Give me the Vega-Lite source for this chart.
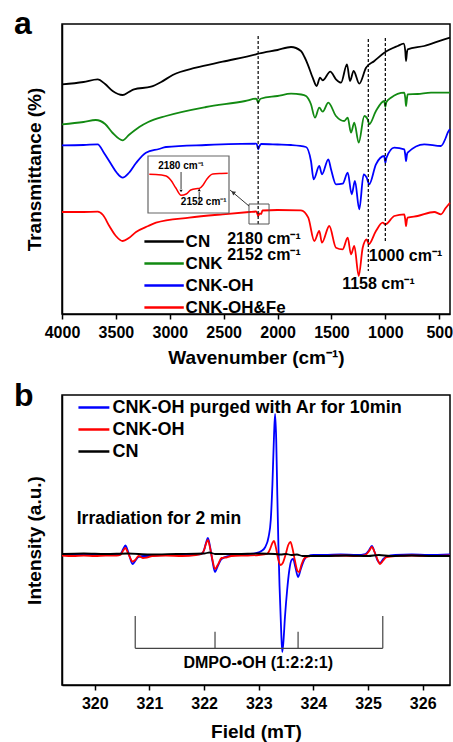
{
  "$schema": "https://vega.github.io/schema/vega-lite/v6.json",
  "padding": {"left": 13, "top": 7, "right": 3, "bottom": 0},
  "spacing": 11,
  "datasets": {
    "ftir": [
      {"sample":"CN","wavenumber":4000,"T":228.7},{"sample":"CN","wavenumber":3800,"T":231},{"sample":"CN","wavenumber":3669,"T":233.7},{"sample":"CN","wavenumber":3600,"T":229},{"sample":"CN","wavenumber":3530,"T":222},{"sample":"CN","wavenumber":3437,"T":218},{"sample":"CN","wavenumber":3380,"T":221},{"sample":"CN","wavenumber":3332,"T":223.7},{"sample":"CN","wavenumber":3174,"T":226.3},{"sample":"CN","wavenumber":3080,"T":231},{"sample":"CN","wavenumber":2973,"T":238},{"sample":"CN","wavenumber":2757,"T":245.3},{"sample":"CN","wavenumber":2509,"T":251.3},{"sample":"CN","wavenumber":2200,"T":258.7},{"sample":"CN","wavenumber":2172,"T":259.5},{"sample":"CN","wavenumber":2000,"T":263},{"sample":"CN","wavenumber":1875,"T":266},{"sample":"CN","wavenumber":1783,"T":262},{"sample":"CN","wavenumber":1750,"T":256},{"sample":"CN","wavenumber":1720,"T":248.7},{"sample":"CN","wavenumber":1674,"T":235.3},{"sample":"CN","wavenumber":1637,"T":227},{"sample":"CN","wavenumber":1606,"T":235.3},{"sample":"CN","wavenumber":1581,"T":232.7},{"sample":"CN","wavenumber":1511,"T":241.3},{"sample":"CN","wavenumber":1458,"T":233.7},{"sample":"CN","wavenumber":1411,"T":230.3},{"sample":"CN","wavenumber":1356,"T":248.7},{"sample":"CN","wavenumber":1328,"T":232},{"sample":"CN","wavenumber":1294,"T":242},{"sample":"CN","wavenumber":1242,"T":229.3},{"sample":"CN","wavenumber":1179,"T":245.3},{"sample":"CN","wavenumber":1102,"T":252},{"sample":"CN","wavenumber":1010,"T":260.3},{"sample":"CN","wavenumber":885,"T":267},{"sample":"CN","wavenumber":830,"T":269.3},{"sample":"CN","wavenumber":815,"T":262},{"sample":"CN","wavenumber":808,"T":252},{"sample":"CN","wavenumber":800,"T":260},{"sample":"CN","wavenumber":793,"T":263.7},{"sample":"CN","wavenumber":639,"T":267},{"sample":"CN","wavenumber":453,"T":273.7},{"sample":"CN","wavenumber":400,"T":275.3},
      {"sample":"CNK","wavenumber":4000,"T":188.7},{"sample":"CNK","wavenumber":3800,"T":191},{"sample":"CNK","wavenumber":3687,"T":193},{"sample":"CNK","wavenumber":3600,"T":189},{"sample":"CNK","wavenumber":3530,"T":180},{"sample":"CNK","wavenumber":3437,"T":172.7},{"sample":"CNK","wavenumber":3380,"T":178},{"sample":"CNK","wavenumber":3283,"T":186},{"sample":"CNK","wavenumber":3200,"T":191},{"sample":"CNK","wavenumber":3035,"T":197},{"sample":"CNK","wavenumber":2664,"T":206},{"sample":"CNK","wavenumber":2300,"T":212},{"sample":"CNK","wavenumber":2200,"T":214.3},{"sample":"CNK","wavenumber":2190,"T":213},{"sample":"CNK","wavenumber":2180,"T":210.3},{"sample":"CNK","wavenumber":2165,"T":213.5},{"sample":"CNK","wavenumber":2150,"T":214.5},{"sample":"CNK","wavenumber":2000,"T":217},{"sample":"CNK","wavenumber":1875,"T":219.3},{"sample":"CNK","wavenumber":1780,"T":218.5},{"sample":"CNK","wavenumber":1736,"T":217},{"sample":"CNK","wavenumber":1690,"T":208.7},{"sample":"CNK","wavenumber":1653,"T":195.3},{"sample":"CNK","wavenumber":1613,"T":205.3},{"sample":"CNK","wavenumber":1581,"T":201.3},{"sample":"CNK","wavenumber":1529,"T":210.3},{"sample":"CNK","wavenumber":1458,"T":197},{"sample":"CNK","wavenumber":1381,"T":192},{"sample":"CNK","wavenumber":1349,"T":195.3},{"sample":"CNK","wavenumber":1319,"T":180.3},{"sample":"CNK","wavenumber":1288,"T":190.3},{"sample":"CNK","wavenumber":1247,"T":170.3},{"sample":"CNK","wavenumber":1195,"T":197},{"sample":"CNK","wavenumber":1164,"T":193.7},{"sample":"CNK","wavenumber":1150,"T":188.7},{"sample":"CNK","wavenumber":1087,"T":202},{"sample":"CNK","wavenumber":1010,"T":212},{"sample":"CNK","wavenumber":1000,"T":206},{"sample":"CNK","wavenumber":990,"T":211},{"sample":"CNK","wavenumber":948,"T":215.3},{"sample":"CNK","wavenumber":824,"T":220.3},{"sample":"CNK","wavenumber":815,"T":215},{"sample":"CNK","wavenumber":808,"T":207},{"sample":"CNK","wavenumber":800,"T":214},{"sample":"CNK","wavenumber":793,"T":218.7},{"sample":"CNK","wavenumber":700,"T":219},{"sample":"CNK","wavenumber":576,"T":220.3},{"sample":"CNK","wavenumber":400,"T":220.3},
      {"sample":"CNK-OH","wavenumber":4000,"T":167.7},{"sample":"CNK-OH","wavenumber":3800,"T":168},{"sample":"CNK-OH","wavenumber":3669,"T":168.7},{"sample":"CNK-OH","wavenumber":3610,"T":160},{"sample":"CNK-OH","wavenumber":3545,"T":149},{"sample":"CNK-OH","wavenumber":3490,"T":140},{"sample":"CNK-OH","wavenumber":3437,"T":135.3},{"sample":"CNK-OH","wavenumber":3380,"T":140},{"sample":"CNK-OH","wavenumber":3313,"T":150},{"sample":"CNK-OH","wavenumber":3221,"T":160.3},{"sample":"CNK-OH","wavenumber":3100,"T":164},{"sample":"CNK-OH","wavenumber":3035,"T":166},{"sample":"CNK-OH","wavenumber":2664,"T":168},{"sample":"CNK-OH","wavenumber":2200,"T":169.3},{"sample":"CNK-OH","wavenumber":2190,"T":168},{"sample":"CNK-OH","wavenumber":2180,"T":163.7},{"sample":"CNK-OH","wavenumber":2165,"T":167.5},{"sample":"CNK-OH","wavenumber":2150,"T":169},{"sample":"CNK-OH","wavenumber":2000,"T":168.5},{"sample":"CNK-OH","wavenumber":1875,"T":168},{"sample":"CNK-OH","wavenumber":1736,"T":166},{"sample":"CNK-OH","wavenumber":1690,"T":152},{"sample":"CNK-OH","wavenumber":1665,"T":133.7},{"sample":"CNK-OH","wavenumber":1613,"T":147},{"sample":"CNK-OH","wavenumber":1588,"T":138.7},{"sample":"CNK-OH","wavenumber":1529,"T":153.7},{"sample":"CNK-OH","wavenumber":1504,"T":143.7},{"sample":"CNK-OH","wavenumber":1458,"T":128.7},{"sample":"CNK-OH","wavenumber":1396,"T":129.3},{"sample":"CNK-OH","wavenumber":1349,"T":140.3},{"sample":"CNK-OH","wavenumber":1312,"T":118.7},{"sample":"CNK-OH","wavenumber":1282,"T":132},{"sample":"CNK-OH","wavenumber":1242,"T":103.7},{"sample":"CNK-OH","wavenumber":1201,"T":138.7},{"sample":"CNK-OH","wavenumber":1173,"T":135.3},{"sample":"CNK-OH","wavenumber":1150,"T":128.7},{"sample":"CNK-OH","wavenumber":1087,"T":148.7},{"sample":"CNK-OH","wavenumber":1010,"T":157},{"sample":"CNK-OH","wavenumber":1000,"T":150.3},{"sample":"CNK-OH","wavenumber":990,"T":155},{"sample":"CNK-OH","wavenumber":917,"T":165.3},{"sample":"CNK-OH","wavenumber":824,"T":163.7},{"sample":"CNK-OH","wavenumber":815,"T":158},{"sample":"CNK-OH","wavenumber":808,"T":152},{"sample":"CNK-OH","wavenumber":800,"T":158},{"sample":"CNK-OH","wavenumber":793,"T":160.3},{"sample":"CNK-OH","wavenumber":639,"T":168.7},{"sample":"CNK-OH","wavenumber":484,"T":167},{"sample":"CNK-OH","wavenumber":440,"T":175},{"sample":"CNK-OH","wavenumber":421,"T":180.3},{"sample":"CNK-OH","wavenumber":400,"T":184},
      {"sample":"CNK-OH&Fe","wavenumber":4000,"T":101},{"sample":"CNK-OH&Fe","wavenumber":3800,"T":101},{"sample":"CNK-OH&Fe","wavenumber":3669,"T":101.3},{"sample":"CNK-OH&Fe","wavenumber":3620,"T":98},{"sample":"CNK-OH&Fe","wavenumber":3561,"T":87},{"sample":"CNK-OH&Fe","wavenumber":3500,"T":77},{"sample":"CNK-OH&Fe","wavenumber":3437,"T":72},{"sample":"CNK-OH&Fe","wavenumber":3380,"T":75},{"sample":"CNK-OH&Fe","wavenumber":3313,"T":81},{"sample":"CNK-OH&Fe","wavenumber":3200,"T":87},{"sample":"CNK-OH&Fe","wavenumber":3128,"T":90.3},{"sample":"CNK-OH&Fe","wavenumber":2819,"T":95.3},{"sample":"CNK-OH&Fe","wavenumber":2509,"T":98.7},{"sample":"CNK-OH&Fe","wavenumber":2262,"T":101},{"sample":"CNK-OH&Fe","wavenumber":2200,"T":101.5},{"sample":"CNK-OH&Fe","wavenumber":2190,"T":100},{"sample":"CNK-OH&Fe","wavenumber":2180,"T":97},{"sample":"CNK-OH&Fe","wavenumber":2165,"T":99.5},{"sample":"CNK-OH&Fe","wavenumber":2152,"T":99},{"sample":"CNK-OH&Fe","wavenumber":2140,"T":102.5},{"sample":"CNK-OH&Fe","wavenumber":2000,"T":103},{"sample":"CNK-OH&Fe","wavenumber":1783,"T":102.7},{"sample":"CNK-OH&Fe","wavenumber":1715,"T":95.3},{"sample":"CNK-OH&Fe","wavenumber":1659,"T":72},{"sample":"CNK-OH&Fe","wavenumber":1613,"T":82},{"sample":"CNK-OH&Fe","wavenumber":1588,"T":70.3},{"sample":"CNK-OH&Fe","wavenumber":1520,"T":87},{"sample":"CNK-OH&Fe","wavenumber":1458,"T":65.3},{"sample":"CNK-OH&Fe","wavenumber":1396,"T":63.7},{"sample":"CNK-OH&Fe","wavenumber":1349,"T":75.3},{"sample":"CNK-OH&Fe","wavenumber":1319,"T":58.7},{"sample":"CNK-OH&Fe","wavenumber":1288,"T":67},{"sample":"CNK-OH&Fe","wavenumber":1247,"T":37},{"sample":"CNK-OH&Fe","wavenumber":1210,"T":65.3},{"sample":"CNK-OH&Fe","wavenumber":1173,"T":73.7},{"sample":"CNK-OH&Fe","wavenumber":1154,"T":68.7},{"sample":"CNK-OH&Fe","wavenumber":1087,"T":82},{"sample":"CNK-OH&Fe","wavenumber":1025,"T":90.3},{"sample":"CNK-OH&Fe","wavenumber":1000,"T":88.7},{"sample":"CNK-OH&Fe","wavenumber":917,"T":97},{"sample":"CNK-OH&Fe","wavenumber":824,"T":98.7},{"sample":"CNK-OH&Fe","wavenumber":815,"T":93},{"sample":"CNK-OH&Fe","wavenumber":808,"T":87},{"sample":"CNK-OH&Fe","wavenumber":800,"T":93},{"sample":"CNK-OH&Fe","wavenumber":793,"T":95.3},{"sample":"CNK-OH&Fe","wavenumber":700,"T":97},{"sample":"CNK-OH&Fe","wavenumber":546,"T":101},{"sample":"CNK-OH&Fe","wavenumber":484,"T":98.7},{"sample":"CNK-OH&Fe","wavenumber":440,"T":105},{"sample":"CNK-OH&Fe","wavenumber":400,"T":110.3}
    ],
    "ftirRules": [
      {"wavenumber":2180,"top":277,"bottom":89},
      {"wavenumber":1158,"top":274,"bottom":42},
      {"wavenumber":1000,"top":275,"bottom":70}
    ],
    "ftirLabels": [
      {"wavenumber":2126,"T":69,"label":"2180 cm⁻¹"},
      {"wavenumber":2126,"T":53,"label":"2152 cm⁻¹"},
      {"wavenumber":813,"T":52,"label":"1000 cm⁻¹"},
      {"wavenumber":1064,"T":24,"label":"1158 cm⁻¹"}
    ],
    "panelA": [{"wavenumber":4445,"T":279,"label":"a"}],
    "zoomBox": [{"w1":2265,"w2":2079,"t1":109,"t2":89}],
    "pointer": [{"wavenumber":2265,"T":107},{"wavenumber":2441,"T":123}],
    "pointerHead": [{"wavenumber":2413,"T":120.5}],
    "inset": [
      {"ix":2228,"iy":38.7},{"ix":2218,"iy":38.5},{"ix":2202,"iy":37},{"ix":2195,"iy":33},{"ix":2187,"iy":25},{"ix":2179,"iy":17.7},{"ix":2171,"iy":19},{"ix":2164,"iy":23},{"ix":2156,"iy":24.3},{"ix":2151,"iy":24.5},{"ix":2145,"iy":28},{"ix":2139,"iy":34},{"ix":2130,"iy":39},{"ix":2117,"iy":39.5},{"ix":2107,"iy":39.7}
    ],
    "insetFrame": [{"ix1":2230,"ix2":2105,"iy1":0,"iy2":57}],
    "insetArrows": [
      {"ix":2179,"iy1":41,"iy2":24,"head":22,"dir":"triangle-down"},
      {"ix":2151,"iy1":11,"iy2":21,"head":23,"dir":"triangle-up"}
    ],
    "insetLabels": [
      {"ix":2179,"iy":44,"label":"2180 cm⁻¹"},
      {"ix":2144,"iy":8,"label":"2152 cm⁻¹"}
    ],
    "epr": [
      {"sample":"CNK-OH purged with Ar for 10min","field":319.4,"I":0.5},{"sample":"CNK-OH purged with Ar for 10min","field":319.6,"I":0},{"sample":"CNK-OH purged with Ar for 10min","field":319.8,"I":0.5},{"sample":"CNK-OH purged with Ar for 10min","field":320.0,"I":0},{"sample":"CNK-OH purged with Ar for 10min","field":320.2,"I":0.5},{"sample":"CNK-OH purged with Ar for 10min","field":320.4,"I":0},{"sample":"CNK-OH purged with Ar for 10min","field":320.47,"I":1},{"sample":"CNK-OH purged with Ar for 10min","field":320.52,"I":6},{"sample":"CNK-OH purged with Ar for 10min","field":320.56,"I":9.5},{"sample":"CNK-OH purged with Ar for 10min","field":320.6,"I":5},{"sample":"CNK-OH purged with Ar for 10min","field":320.64,"I":-2},{"sample":"CNK-OH purged with Ar for 10min","field":320.69,"I":-9},{"sample":"CNK-OH purged with Ar for 10min","field":320.74,"I":-6},{"sample":"CNK-OH purged with Ar for 10min","field":320.8,"I":-2},{"sample":"CNK-OH purged with Ar for 10min","field":320.9,"I":-1},{"sample":"CNK-OH purged with Ar for 10min","field":321.0,"I":-1},{"sample":"CNK-OH purged with Ar for 10min","field":321.2,"I":0},{"sample":"CNK-OH purged with Ar for 10min","field":321.5,"I":0},{"sample":"CNK-OH purged with Ar for 10min","field":321.8,"I":0.5},{"sample":"CNK-OH purged with Ar for 10min","field":321.95,"I":1},{"sample":"CNK-OH purged with Ar for 10min","field":322.0,"I":5},{"sample":"CNK-OH purged with Ar for 10min","field":322.04,"I":13},{"sample":"CNK-OH purged with Ar for 10min","field":322.07,"I":17},{"sample":"CNK-OH purged with Ar for 10min","field":322.11,"I":8},{"sample":"CNK-OH purged with Ar for 10min","field":322.15,"I":-5},{"sample":"CNK-OH purged with Ar for 10min","field":322.2,"I":-17},{"sample":"CNK-OH purged with Ar for 10min","field":322.25,"I":-11},{"sample":"CNK-OH purged with Ar for 10min","field":322.32,"I":-4},{"sample":"CNK-OH purged with Ar for 10min","field":322.45,"I":-1},{"sample":"CNK-OH purged with Ar for 10min","field":322.6,"I":0},{"sample":"CNK-OH purged with Ar for 10min","field":322.8,"I":1},{"sample":"CNK-OH purged with Ar for 10min","field":322.95,"I":2},{"sample":"CNK-OH purged with Ar for 10min","field":323.05,"I":4},{"sample":"CNK-OH purged with Ar for 10min","field":323.12,"I":8},{"sample":"CNK-OH purged with Ar for 10min","field":323.18,"I":18},{"sample":"CNK-OH purged with Ar for 10min","field":323.22,"I":35},{"sample":"CNK-OH purged with Ar for 10min","field":323.25,"I":70},{"sample":"CNK-OH purged with Ar for 10min","field":323.28,"I":120},{"sample":"CNK-OH purged with Ar for 10min","field":323.3,"I":141},{"sample":"CNK-OH purged with Ar for 10min","field":323.32,"I":115},{"sample":"CNK-OH purged with Ar for 10min","field":323.34,"I":60},{"sample":"CNK-OH purged with Ar for 10min","field":323.36,"I":10},{"sample":"CNK-OH purged with Ar for 10min","field":323.38,"I":-30},{"sample":"CNK-OH purged with Ar for 10min","field":323.41,"I":-75},{"sample":"CNK-OH purged with Ar for 10min","field":323.43,"I":-97},{"sample":"CNK-OH purged with Ar for 10min","field":323.45,"I":-88},{"sample":"CNK-OH purged with Ar for 10min","field":323.48,"I":-62},{"sample":"CNK-OH purged with Ar for 10min","field":323.52,"I":-35},{"sample":"CNK-OH purged with Ar for 10min","field":323.56,"I":-15},{"sample":"CNK-OH purged with Ar for 10min","field":323.6,"I":-5},{"sample":"CNK-OH purged with Ar for 10min","field":323.63,"I":-4},{"sample":"CNK-OH purged with Ar for 10min","field":323.67,"I":-12},{"sample":"CNK-OH purged with Ar for 10min","field":323.72,"I":-22},{"sample":"CNK-OH purged with Ar for 10min","field":323.77,"I":-14},{"sample":"CNK-OH purged with Ar for 10min","field":323.83,"I":-5},{"sample":"CNK-OH purged with Ar for 10min","field":323.9,"I":-1},{"sample":"CNK-OH purged with Ar for 10min","field":324.0,"I":0},{"sample":"CNK-OH purged with Ar for 10min","field":324.2,"I":0},{"sample":"CNK-OH purged with Ar for 10min","field":324.5,"I":0.5},{"sample":"CNK-OH purged with Ar for 10min","field":324.8,"I":0},{"sample":"CNK-OH purged with Ar for 10min","field":324.95,"I":1},{"sample":"CNK-OH purged with Ar for 10min","field":325.02,"I":5},{"sample":"CNK-OH purged with Ar for 10min","field":325.07,"I":9},{"sample":"CNK-OH purged with Ar for 10min","field":325.12,"I":3},{"sample":"CNK-OH purged with Ar for 10min","field":325.17,"I":-5},{"sample":"CNK-OH purged with Ar for 10min","field":325.22,"I":-8},{"sample":"CNK-OH purged with Ar for 10min","field":325.28,"I":-4},{"sample":"CNK-OH purged with Ar for 10min","field":325.35,"I":-1},{"sample":"CNK-OH purged with Ar for 10min","field":325.5,"I":0},{"sample":"CNK-OH purged with Ar for 10min","field":325.8,"I":0.5},{"sample":"CNK-OH purged with Ar for 10min","field":326.1,"I":0},{"sample":"CNK-OH purged with Ar for 10min","field":326.5,"I":0.5},
      {"sample":"CNK-OH","field":319.4,"I":-0.5},{"sample":"CNK-OH","field":319.6,"I":-1},{"sample":"CNK-OH","field":319.8,"I":-0.5},{"sample":"CNK-OH","field":320.0,"I":-1},{"sample":"CNK-OH","field":320.2,"I":-0.5},{"sample":"CNK-OH","field":320.4,"I":-0.5},{"sample":"CNK-OH","field":320.47,"I":0},{"sample":"CNK-OH","field":320.52,"I":4.5},{"sample":"CNK-OH","field":320.56,"I":7},{"sample":"CNK-OH","field":320.6,"I":3},{"sample":"CNK-OH","field":320.64,"I":-2},{"sample":"CNK-OH","field":320.69,"I":-6.5},{"sample":"CNK-OH","field":320.74,"I":-5},{"sample":"CNK-OH","field":320.8,"I":-1},{"sample":"CNK-OH","field":320.88,"I":-3},{"sample":"CNK-OH","field":320.95,"I":-2.5},{"sample":"CNK-OH","field":321.05,"I":-1},{"sample":"CNK-OH","field":321.3,"I":-0.5},{"sample":"CNK-OH","field":321.6,"I":-1},{"sample":"CNK-OH","field":321.85,"I":0},{"sample":"CNK-OH","field":321.95,"I":1},{"sample":"CNK-OH","field":322.0,"I":5},{"sample":"CNK-OH","field":322.04,"I":12},{"sample":"CNK-OH","field":322.07,"I":15},{"sample":"CNK-OH","field":322.11,"I":7},{"sample":"CNK-OH","field":322.15,"I":-4},{"sample":"CNK-OH","field":322.2,"I":-14},{"sample":"CNK-OH","field":322.25,"I":-10},{"sample":"CNK-OH","field":322.32,"I":-3},{"sample":"CNK-OH","field":322.4,"I":-2.5},{"sample":"CNK-OH","field":322.5,"I":-1},{"sample":"CNK-OH","field":322.8,"I":-0.5},{"sample":"CNK-OH","field":323.0,"I":0},{"sample":"CNK-OH","field":323.15,"I":1},{"sample":"CNK-OH","field":323.2,"I":5},{"sample":"CNK-OH","field":323.25,"I":12},{"sample":"CNK-OH","field":323.28,"I":14},{"sample":"CNK-OH","field":323.32,"I":6},{"sample":"CNK-OH","field":323.36,"I":-5},{"sample":"CNK-OH","field":323.4,"I":-10},{"sample":"CNK-OH","field":323.44,"I":-8},{"sample":"CNK-OH","field":323.49,"I":0},{"sample":"CNK-OH","field":323.54,"I":10},{"sample":"CNK-OH","field":323.58,"I":13},{"sample":"CNK-OH","field":323.62,"I":6},{"sample":"CNK-OH","field":323.66,"I":-5},{"sample":"CNK-OH","field":323.71,"I":-16},{"sample":"CNK-OH","field":323.74,"I":-17},{"sample":"CNK-OH","field":323.78,"I":-10},{"sample":"CNK-OH","field":323.84,"I":-3},{"sample":"CNK-OH","field":323.95,"I":-1},{"sample":"CNK-OH","field":324.2,"I":-1},{"sample":"CNK-OH","field":324.5,"I":-0.5},{"sample":"CNK-OH","field":324.8,"I":-1},{"sample":"CNK-OH","field":324.95,"I":0},{"sample":"CNK-OH","field":325.02,"I":4},{"sample":"CNK-OH","field":325.07,"I":8},{"sample":"CNK-OH","field":325.12,"I":3},{"sample":"CNK-OH","field":325.17,"I":-4},{"sample":"CNK-OH","field":325.22,"I":-9},{"sample":"CNK-OH","field":325.27,"I":-6},{"sample":"CNK-OH","field":325.34,"I":-2},{"sample":"CNK-OH","field":325.5,"I":-1},{"sample":"CNK-OH","field":325.8,"I":-0.5},{"sample":"CNK-OH","field":326.1,"I":-1},{"sample":"CNK-OH","field":326.5,"I":-0.5},
      {"sample":"CN","field":319.4,"I":1},{"sample":"CN","field":319.8,"I":1.5},{"sample":"CN","field":320.2,"I":1},{"sample":"CN","field":320.6,"I":1.5},{"sample":"CN","field":321.0,"I":0.5},{"sample":"CN","field":321.5,"I":1},{"sample":"CN","field":322.0,"I":1.5},{"sample":"CN","field":322.1,"I":2.5},{"sample":"CN","field":322.2,"I":1},{"sample":"CN","field":322.6,"I":1},{"sample":"CN","field":323.0,"I":1.5},{"sample":"CN","field":323.3,"I":1},{"sample":"CN","field":323.4,"I":0.5},{"sample":"CN","field":323.5,"I":1},{"sample":"CN","field":323.6,"I":0},{"sample":"CN","field":323.7,"I":0.5},{"sample":"CN","field":323.8,"I":-1},{"sample":"CN","field":324.2,"I":-1},{"sample":"CN","field":324.6,"I":-0.5},{"sample":"CN","field":325.0,"I":-1},{"sample":"CN","field":325.2,"I":0},{"sample":"CN","field":325.4,"I":-1},{"sample":"CN","field":325.8,"I":-0.5},{"sample":"CN","field":326.2,"I":-1},{"sample":"CN","field":326.5,"I":-1}
    ],
    "dmpoSticks": [
      {"field":320.74,"top":-61,"bottom":-93.3},
      {"field":322.2,"top":-76.7,"bottom":-93.3},
      {"field":323.72,"top":-76.7,"bottom":-93.3},
      {"field":325.27,"top":-61,"bottom":-93.3}
    ],
    "dmpoBase": [{"f1":320.74,"f2":325.27,"I":-93.3}],
    "eprLabels": [
      {"field":322.99,"I":-113,"label":"DMPO-•OH (1:2:2:1)"}
    ],
    "eprNote": [
      {"field":319.67,"I":31,"label":"Irradiation for 2 min"}
    ],
    "panelB": [{"field":318.52,"I":149,"label":"b"}]
  },
  "vconcat": [
    {
      "width": 388,
      "height": 290,
      "layer": [
        {
          "layer": [
            {
              "data": {"name": "ftir"},
              "mark": {"type": "line", "strokeWidth": 1.8, "interpolate": "monotone"},
              "encoding": {
                "x": {"field": "wavenumber", "type": "quantitative", "title": "Wavenumber (cm⁻¹)",
                      "scale": {"domain": [400, 4000], "reverse": true, "nice": false, "zero": false},
                      "axis": {"values": [500,750,1000,1250,1500,1750,2000,2250,2500,2750,3000,3250,3500,3750,4000], "format": "d",
                               "labelExpr": "datum.value % 500 === 0 ? datum.label : ''",
                               "tickSize": {"condition": {"test": "datum.value % 500 === 0", "value": 5}, "value": 3},
                               "labelOverlap": false, "labelFlush": false, "labelPadding": 5, "titlePadding": 8}},
                "y": {"field": "T", "type": "quantitative", "title": "Transmittance (%)",
                      "scale": {"domain": [-1, 289], "nice": false, "zero": false},
                      "axis": {"labels": false, "ticks": false, "titlePadding": 18}},
                "color": {"field": "sample", "type": "nominal",
                          "scale": {"domain": ["CN","CNK","CNK-OH","CNK-OH&Fe"], "range": ["#000000","#128a12","#0000ff","#ff0000"]},
                          "legend": {"title": null, "orient": "none", "legendX": 90.6, "legendY": 206, "symbolType": "M-1.95,0H1.95", "symbolSize": 408, "labelOffset": 10, "labelFontSize": 17}}
              }
            },
            {
              "data": {"name": "ftirRules"},
              "mark": {"type": "rule", "strokeDash": [3, 2], "strokeWidth": 1.2, "color": "#000"},
              "encoding": {
                "x": {"field": "wavenumber", "type": "quantitative", "title": "Wavenumber (cm⁻¹)"},
                "y": {"field": "top", "type": "quantitative", "title": "Transmittance (%)"},
                "y2": {"field": "bottom"}
              }
            },
            {
              "data": {"name": "ftirLabels"},
              "mark": {"type": "text", "fontSize": 16, "fontWeight": "bold", "font": "Liberation Sans", "align": "center", "baseline": "alphabetic", "color": "#000"},
              "encoding": {
                "x": {"field": "wavenumber", "type": "quantitative", "title": "Wavenumber (cm⁻¹)"},
                "y": {"field": "T", "type": "quantitative", "title": "Transmittance (%)"},
                "text": {"field": "label"}
              }
            },
            {
              "data": {"name": "panelA"},
              "mark": {"type": "text", "fontSize": 32, "fontWeight": "bold", "font": "Liberation Sans", "align": "left", "baseline": "alphabetic", "color": "#000", "clip": false},
              "encoding": {
                "x": {"field": "wavenumber", "type": "quantitative", "title": "Wavenumber (cm⁻¹)"},
                "y": {"field": "T", "type": "quantitative", "title": "Transmittance (%)"},
                "text": {"field": "label"}
              }
            },
            {
              "data": {"name": "zoomBox"},
              "mark": {"type": "rect", "fill": null, "fillOpacity": 0, "stroke": "#555", "strokeWidth": 1},
              "encoding": {
                "x": {"field": "w1", "type": "quantitative", "title": "Wavenumber (cm⁻¹)"},
                "x2": {"field": "w2"},
                "y": {"field": "t1", "type": "quantitative", "title": "Transmittance (%)"},
                "y2": {"field": "t2"}
              }
            },
            {
              "data": {"name": "pointer"},
              "mark": {"type": "line", "color": "#333", "strokeWidth": 1},
              "encoding": {
                "x": {"field": "wavenumber", "type": "quantitative", "title": "Wavenumber (cm⁻¹)"},
                "y": {"field": "T", "type": "quantitative", "title": "Transmittance (%)"}
              }
            },
            {
              "data": {"name": "pointerHead"},
              "mark": {"type": "point", "shape": "triangle-up", "angle": 306, "size": 22, "filled": true, "color": "#333", "opacity": 1},
              "encoding": {
                "x": {"field": "wavenumber", "type": "quantitative", "title": "Wavenumber (cm⁻¹)"},
                "y": {"field": "T", "type": "quantitative", "title": "Transmittance (%)"}
              }
            }
          ]
        },
        {
          "layer": [
            {
              "data": {"name": "insetFrame"},
              "mark": {"type": "rect", "fill": "#fff", "fillOpacity": 0, "stroke": "#666", "strokeWidth": 1.2},
              "encoding": {
                "x": {"field": "ix1", "type": "quantitative", "scale": {"domain": [2230, 2105], "range": [86, 167], "nice": false, "zero": false}, "axis": null},
                "x2": {"field": "ix2"},
                "y": {"field": "iy1", "type": "quantitative", "scale": {"domain": [0, 57], "range": [189, 132], "nice": false, "zero": false}, "axis": null},
                "y2": {"field": "iy2"}
              }
            },
            {
              "data": {"name": "inset"},
              "mark": {"type": "line", "color": "#ff0000", "strokeWidth": 1.5, "interpolate": "monotone"},
              "encoding": {
                "x": {"field": "ix", "type": "quantitative", "axis": null},
                "y": {"field": "iy", "type": "quantitative", "axis": null}
              }
            },
            {
              "data": {"name": "insetArrows"},
              "mark": {"type": "rule", "color": "#000", "strokeWidth": 0.8},
              "encoding": {
                "x": {"field": "ix", "type": "quantitative", "axis": null},
                "y": {"field": "iy1", "type": "quantitative", "axis": null},
                "y2": {"field": "iy2"}
              }
            },
            {
              "data": {"name": "insetArrows"},
              "mark": {"type": "point", "filled": true, "size": 10, "color": "#000", "opacity": 1},
              "encoding": {
                "x": {"field": "ix", "type": "quantitative", "axis": null},
                "y": {"field": "head", "type": "quantitative", "axis": null},
                "shape": {"field": "dir", "type": "nominal", "scale": null, "legend": null}
              }
            },
            {
              "data": {"name": "insetLabels"},
              "mark": {"type": "text", "fontSize": 10, "fontWeight": "bold", "font": "Liberation Sans", "align": "center", "baseline": "alphabetic", "color": "#000"},
              "encoding": {
                "x": {"field": "ix", "type": "quantitative", "axis": null},
                "y": {"field": "iy", "type": "quantitative", "axis": null},
                "text": {"field": "label"}
              }
            }
          ]
        }
      ],
      "resolve": {"scale": {"x": "independent", "y": "independent"}}
    },
    {
      "width": 388,
      "height": 290,
      "layer": [
        {
          "data": {"name": "epr"},
          "mark": {"type": "line", "strokeWidth": 1.8, "interpolate": "monotone"},
          "encoding": {
            "x": {"field": "field", "type": "quantitative", "title": "Field (mT)",
                  "scale": {"domain": [319.4, 326.5], "nice": false, "zero": false},
                  "axis": {"values": [320,321,322,323,324,325,326], "format": "d",
                           "tickSize": 5, "labelOverlap": false, "labelFlush": false, "labelPadding": 5, "titlePadding": 11}},
            "y": {"field": "I", "type": "quantitative", "title": "Intensity (a.u.)",
                  "scale": {"domain": [-130, 160], "nice": false, "zero": false},
                  "axis": {"labels": false, "ticks": false, "titlePadding": 18}},
            "color": {"field": "sample", "type": "nominal",
                      "scale": {"domain": ["CNK-OH purged with Ar for 10min","CNK-OH","CN"], "range": ["#0000ff","#ff0000","#000000"]},
                      "legend": {"title": null, "orient": "none", "legendX": 21.4, "legendY": 2, "symbolType": "M-1.7,0H1.7", "symbolSize": 331, "labelOffset": 8, "labelFontSize": 18, "labelLimit": 0}}
          }
        },
        {
          "data": {"name": "dmpoSticks"},
          "mark": {"type": "rule", "color": "#444", "strokeWidth": 1.2},
          "encoding": {
            "x": {"field": "field", "type": "quantitative", "title": "Field (mT)"},
            "y": {"field": "top", "type": "quantitative", "title": "Intensity (a.u.)"},
            "y2": {"field": "bottom"}
          }
        },
        {
          "data": {"name": "dmpoBase"},
          "mark": {"type": "rule", "color": "#444", "strokeWidth": 1.2},
          "encoding": {
            "x": {"field": "f1", "type": "quantitative", "title": "Field (mT)"},
            "x2": {"field": "f2"},
            "y": {"field": "I", "type": "quantitative", "title": "Intensity (a.u.)"}
          }
        },
        {
          "data": {"name": "eprLabels"},
          "mark": {"type": "text", "fontSize": 16, "fontWeight": "bold", "font": "Liberation Sans", "align": "center", "baseline": "alphabetic", "color": "#000"},
          "encoding": {
            "x": {"field": "field", "type": "quantitative", "title": "Field (mT)"},
            "y": {"field": "I", "type": "quantitative", "title": "Intensity (a.u.)"},
            "text": {"field": "label"}
          }
        },
        {
          "data": {"name": "eprNote"},
          "mark": {"type": "text", "fontSize": 17.5, "fontWeight": "bold", "font": "Liberation Sans", "align": "left", "baseline": "alphabetic", "color": "#000"},
          "encoding": {
            "x": {"field": "field", "type": "quantitative", "title": "Field (mT)"},
            "y": {"field": "I", "type": "quantitative", "title": "Intensity (a.u.)"},
            "text": {"field": "label"}
          }
        },
        {
          "data": {"name": "panelB"},
          "mark": {"type": "text", "fontSize": 32, "fontWeight": "bold", "font": "Liberation Sans", "align": "left", "baseline": "alphabetic", "color": "#000", "clip": false},
          "encoding": {
            "x": {"field": "field", "type": "quantitative", "title": "Field (mT)"},
            "y": {"field": "I", "type": "quantitative", "title": "Intensity (a.u.)"},
            "text": {"field": "label"}
          }
        }
      ]
    }
  ],
  "resolve": {"scale": {"x": "independent", "y": "independent", "color": "independent"}, "legend": {"color": "independent"}},
  "config": {
    "font": "Liberation Sans",
    "background": "#ffffff",
    "view": {"stroke": "#000", "strokeWidth": 1.5},
    "axis": {"domainColor": "#000", "domainWidth": 1.5, "tickColor": "#000", "tickWidth": 1.5, "labelColor": "#000", "titleColor": "#000",
             "labelFont": "Liberation Sans", "titleFont": "Liberation Sans", "labelFontWeight": "bold", "titleFontWeight": "bold",
             "labelFontSize": 16, "titleFontSize": 19, "grid": false},
    "legend": {"labelFont": "Liberation Sans", "labelFontWeight": "bold", "labelColor": "#000", "symbolStrokeWidth": 2.5, "padding": 0}
  }
}
